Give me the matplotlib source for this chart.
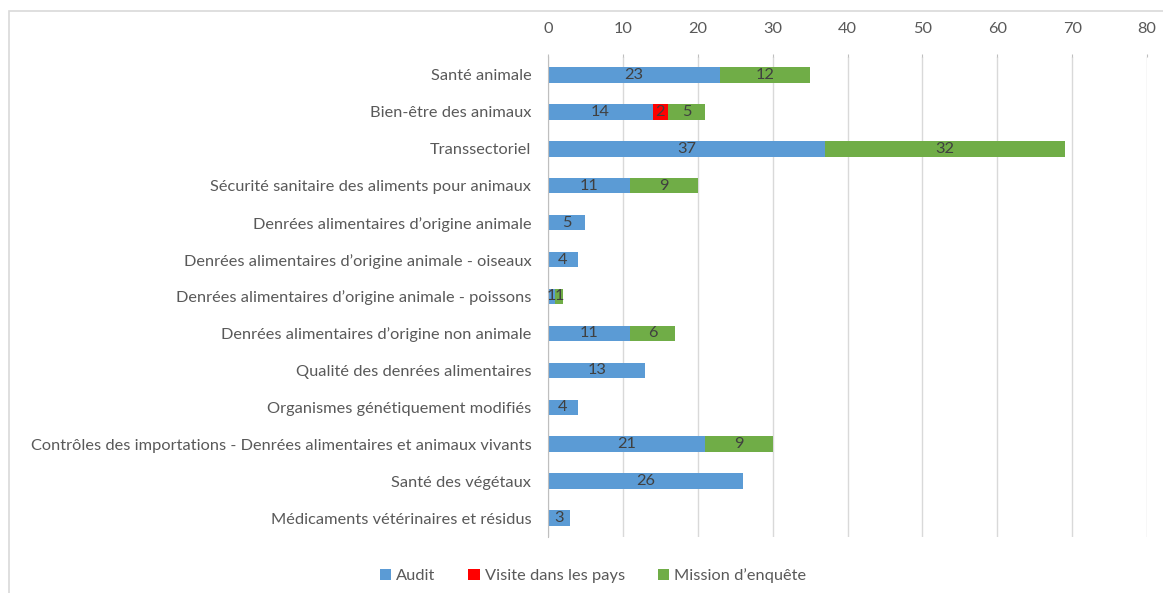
import matplotlib
matplotlib.use("Agg")
import matplotlib.pyplot as plt
from matplotlib.patches import Rectangle, Patch
import numpy as np

categories = [
    "Santé animale",
    "Bien-être des animaux",
    "Transsectoriel",
    "Sécurité sanitaire des aliments pour animaux",
    "Denrées alimentaires d’origine animale",
    "Denrées alimentaires d’origine animale - oiseaux",
    "Denrées alimentaires d’origine animale - poissons",
    "Denrées alimentaires d’origine non animale",
    "Qualité des denrées alimentaires",
    "Organismes génétiquement modifiés",
    "Contrôles des importations - Denrées alimentaires et animaux vivants",
    "Santé des végétaux",
    "Médicaments vétérinaires et résidus",
]
audit = [23, 14, 37, 11, 5, 4, 1, 11, 13, 4, 21, 26, 3]
visite = [0, 2, 0, 0, 0, 0, 0, 0, 0, 0, 0, 0, 0]
mission = [12, 5, 32, 9, 0, 0, 1, 6, 0, 0, 9, 0, 0]
series_names = ["Audit", "Visite dans les pays", "Mission d’enquête"]
colors = ["#5B9BD5", "#FF0000", "#70AD47"]
xticks = [0, 10, 20, 30, 40, 50, 60, 70, 80]

plt.rcParams['font.family'] = ['Lato', 'DejaVu Sans']
fig = plt.figure(figsize=(11.63, 5.93), dpi=100)
ax = fig.add_axes([548/1163, 1-536.5/593, (1147-548)/1163, (536.5-56.5)/593])

fs = 11.8
y = np.arange(len(categories))
left = np.zeros(len(categories))
for vals, name, col in zip([audit, visite, mission], series_names, colors):
    vals = np.array(vals, dtype=float)
    ax.barh(y, vals, left=left, height=0.42, color=col, label=name, zorder=3)
    for yi, v, l in zip(y, vals, left):
        if v > 0:
            ax.text(l + v/2, yi, f"{int(v)}", ha='center', va='center',
                    fontsize=fs, color='#404040', zorder=6)
    left += vals

ax.set_xlim(0, 80)
ax.set_ylim(len(categories)-0.5, -0.5)
ax.set_yticks(y)
ax.set_yticklabels(categories, fontsize=fs, color='#595959')
ax.set_xticks(xticks)
ax.xaxis.tick_top()
ax.tick_params(axis='x', labelsize=fs, labelcolor='#595959', length=2,
               color='#BFBFBF', pad=13)
ax.tick_params(axis='y', length=0, pad=12)
ax.grid(axis='x', color='#D9D9D9', linewidth=1, zorder=0)
for s in ['top', 'right', 'bottom']:
    ax.spines[s].set_visible(False)
ax.spines['left'].set_color('#BFBFBF')
ax.spines['left'].set_zorder(5)

handles = [Patch(facecolor=c, label=n) for c, n in zip(colors, series_names)]
fig.legend(handles=handles, loc='center', bbox_to_anchor=(593/1163, 1-576/593),
           ncol=3, frameon=False, fontsize=fs, handlelength=0.7, handleheight=0.7,
           handletextpad=0.3, columnspacing=2.0, labelcolor='#595959')

fig.patches.append(Rectangle((9/1163, -0.1), 1.2, 1-11/593+0.1, transform=fig.transFigure,
                             fill=False, edgecolor='#D9D9D9', linewidth=1.2))

fig.savefig("out.png", dpi=100)
